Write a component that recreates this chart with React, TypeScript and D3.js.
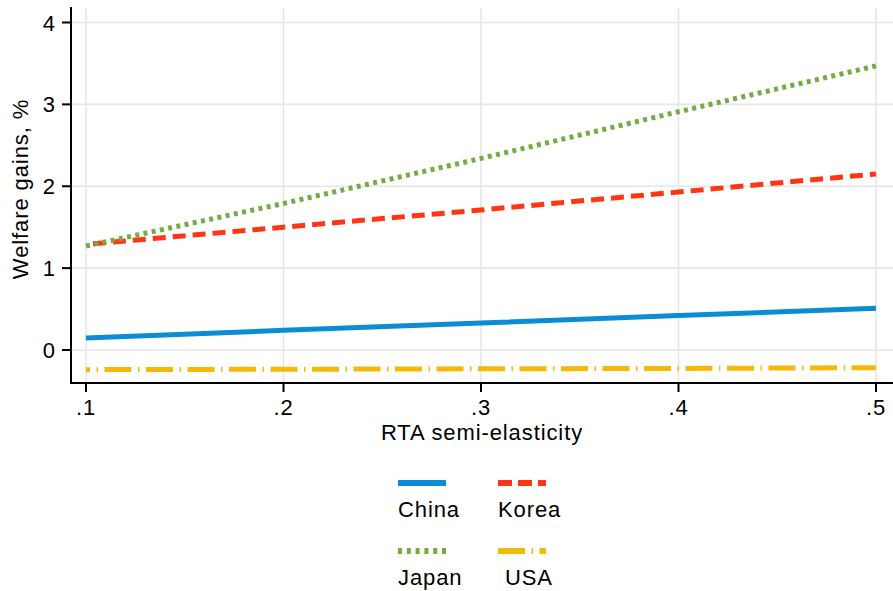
import * as d3 from 'd3';
import React from 'react';

const xValues = [0.1, 0.2, 0.3, 0.4, 0.5];
const china = [0.146, 0.24, 0.33, 0.42, 0.51];
const korea = [1.29, 1.5, 1.71, 1.93, 2.15];
const japan = [1.27, 1.79, 2.34, 2.91, 3.47];
const usa = [-0.24, -0.235, -0.23, -0.225, -0.216];

const xTicks = [0.1, 0.2, 0.3, 0.4, 0.5];
const xTickLabels = ['.1', '.2', '.3', '.4', '.5'];
const yTicks = [0, 1, 2, 3, 4];
const yTickLabels = ['0', '1', '2', '3', '4'];

const series = [
  { name: 'China', values: china, color: '#0a8dd4', dash: 'none', offset: 0, legendDash: 'none' },
  { name: 'Korea', values: korea, color: '#ff3516', dash: '13 7', offset: 13, legendDash: '14 6' },
  { name: 'Japan', values: japan, color: '#76aa45', dash: '4 4.4', offset: 0, legendDash: '4 4.8' },
  { name: 'USA', values: usa, color: '#f5b90a', dash: '27 6.5 1.5 6.5', offset: 23, legendDash: '27 6.5 1.5 6.5' },
];

const font = '"Liberation Sans", Arial, sans-serif';

export default function App() {
  const width = 893;
  const height = 591;
  const plot = { left: 71, right: 893, top: 8, bottom: 383 };

  const x = d3.scaleLinear().domain([0.1, 0.5]).range([86, 876]);
  const y = d3.scaleLinear().domain([0, 4]).range([350, 22.5]);

  const line = d3
    .line<number>()
    .x((_, i) => x(xValues[i]))
    .y((d) => y(d));

  // legend keys laid out 2 x 2
  const legendPos = [
    { lx: 398, ly: 483, tx: 398, ty: 517 },
    { lx: 498, ly: 483, tx: 498, ty: 517 },
    { lx: 398, ly: 551, tx: 398, ty: 585 },
    { lx: 498, ly: 551, tx: 505, ty: 585 },
  ];

  return (
    <svg
      width={width}
      height={height}
      style={{ position: 'absolute', left: 0, top: 0, background: '#fff' }}
      fontFamily={font}
    >
      {/* grid */}
      <g stroke="#e6e6e6" strokeWidth={1.6}>
        {yTicks.map((t) => (
          <line key={`gy-${t}`} x1={plot.left} x2={plot.right} y1={y(t)} y2={y(t)} />
        ))}
        {xTicks.map((t) => (
          <line key={`gx-${t}`} x1={x(t)} x2={x(t)} y1={plot.top} y2={plot.bottom} />
        ))}
      </g>

      {/* lines */}
      {series.map((s) => (
        <path
          key={s.name}
          d={line(s.values) || ''}
          fill="none"
          stroke={s.color}
          strokeWidth={5}
          strokeDasharray={s.dash}
          strokeDashoffset={s.offset}
        />
      ))}

      {/* axes */}
      <g stroke="#000" strokeWidth={2}>
        <line x1={plot.left} x2={plot.left} y1={plot.top - 1} y2={plot.bottom + 1} />
        <line x1={plot.left - 1} x2={plot.right} y1={plot.bottom} y2={plot.bottom} />
        {yTicks.map((t) => (
          <line key={`ty-${t}`} x1={plot.left - 9} x2={plot.left} y1={y(t)} y2={y(t)} />
        ))}
        {xTicks.map((t) => (
          <line key={`tx-${t}`} x1={x(t)} x2={x(t)} y1={plot.bottom} y2={plot.bottom + 9} />
        ))}
      </g>

      <g fontSize={22} fill="#000" letterSpacing={0.9}>
        {yTicks.map((t, i) => (
          <text key={`ly-${t}`} x={56} y={y(t) + 8} textAnchor="end">
            {yTickLabels[i]}
          </text>
        ))}
        {xTicks.map((t, i) => (
          <text key={`lx-${t}`} x={x(t)} y={415} textAnchor="middle">
            {xTickLabels[i]}
          </text>
        ))}
        <text x={(plot.left + plot.right) / 2} y={440} textAnchor="middle">
          RTA semi-elasticity
        </text>
        <text transform="translate(28, 189) rotate(-90)" textAnchor="middle">
          Welfare gains, %
        </text>
      </g>

      {/* legend */}
      <g fontSize={22} letterSpacing={0.9}>
        {series.map((s, i) => {
          const p = legendPos[i];
          return (
            <g key={`leg-${s.name}`}>
              <line
                x1={p.lx}
                x2={p.lx + 48}
                y1={p.ly}
                y2={p.ly}
                stroke={s.color}
                strokeWidth={6}
                strokeDasharray={s.legendDash}
              />
              <text x={p.tx} y={p.ty}>
                {s.name}
              </text>
            </g>
          );
        })}
      </g>
    </svg>
  );
}
